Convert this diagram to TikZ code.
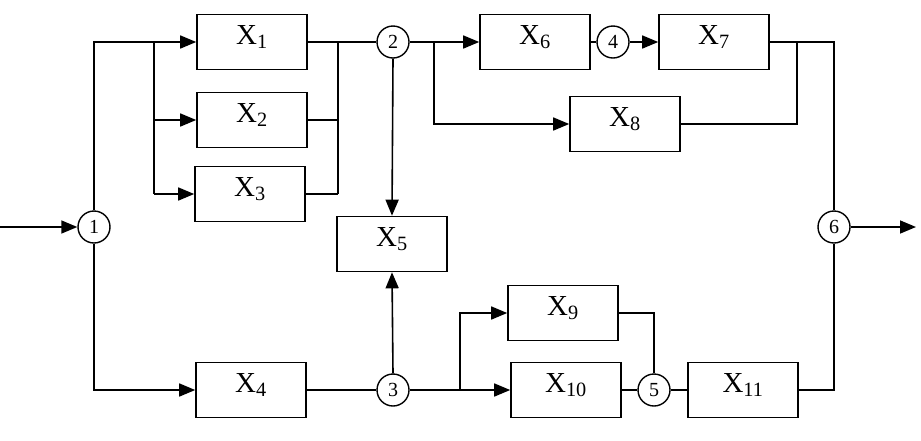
\documentclass[tikz,border=0pt]{standalone}
\usepackage{fontspec}
\setmainfont{Liberation Serif}
\usetikzlibrary{arrows.meta}
\begin{document}
\begin{tikzpicture}[x=1pt,y=-1pt,
  blk/.style={draw,line width=1.6pt,minimum width=110pt,minimum height=55pt,inner sep=0pt,text height=20pt,text depth=16pt,font=\fontsize{29}{32}\selectfont},
  junc/.style={draw,circle,line width=1.4pt,minimum size=32pt,inner sep=0pt,font=\fontsize{20}{22}\selectfont},
  ln/.style={line width=1.6pt},
  arr/.style={ln,-{Triangle[length=16pt,width=13pt]}}]
\useasboundingbox (0,0) rectangle (921,440);
% blocks
\node[blk] (X1) at (252,42) {X\textsubscript{1}};
\node[blk] (X2) at (252,120) {X\textsubscript{2}};
\node[blk] (X3) at (250,194) {X\textsubscript{3}};
\node[blk] (X4) at (251,390) {X\textsubscript{4}};
\node[blk] (X5) at (392,244) {X\textsubscript{5}};
\node[blk] (X6) at (535,42) {X\textsubscript{6}};
\node[blk] (X7) at (714,42) {X\textsubscript{7}};
\node[blk] (X8) at (625,124) {X\textsubscript{8}};
\node[blk] (X9) at (563,313) {X\textsubscript{9}};
\node[blk] (X10) at (566,390) {X\textsubscript{10}};
\node[blk] (X11) at (743,390) {X\textsubscript{11}};
% junctions
\node[junc] (n1) at (94,227) {1};
\node[junc] (n2) at (393,42) {2};
\node[junc] (n3) at (393,390) {3};
\node[junc] (n4) at (613,42) {4};
\node[junc] (n5) at (654,390) {5};
\node[junc] (n6) at (834,227) {6};
% helper coordinates
\coordinate (in) at (0,227);
\coordinate (out) at (916,227);
\coordinate (sA) at (154,42);
\coordinate (sB) at (154,194);
\coordinate (mA) at (338,42);
\coordinate (mB) at (338,194);
\coordinate (sC) at (434,42);
\coordinate (mC) at (797,42);
\coordinate (sD) at (460,390);
% connectors
\draw[arr] (in) -- (n1.west);
\draw[arr] (n1.north) |- (X1.west);
\draw[ln] (sA) -- (sB);
\draw[arr] (sA |- X2.west) -- (X2.west);
\draw[arr] (sB) -- (X3.west);
\draw[ln] (X1.east) -- (n2.west);
\draw[ln] (mA) -- (mB);
\draw[ln] (X2.east) -- (mA |- X2.east);
\draw[ln] (X3.east) -- (mB);
\draw[arr] (n2.south) -- (X5.north);
\draw[arr] (n2.east) -- (X6.west);
\draw[arr] (sC) |- (X8.west);
\draw[ln] (X6.east) -- (n4.west);
\draw[arr] (n4.east) -- (X7.west);
\draw[ln] (X7.east) -| (n6.north);
\draw[ln] (mC) |- (X8.east);
\draw[arr] (n6.east) -- (out);
\draw[arr] (n1.south) |- (X4.west);
\draw[ln] (X4.east) -- (n3.west);
\draw[arr] (n3.north) -- (X5.south);
\draw[arr] (n3.east) -- (X10.west);
\draw[arr] (sD) |- (X9.west);
\draw[ln] (X10.east) -- (n5.west);
\draw[ln] (X9.east) -| (n5.north);
\draw[ln] (n5.east) -- (X11.west);
\draw[ln] (X11.east) -| (n6.south);
\end{tikzpicture}
\end{document}
